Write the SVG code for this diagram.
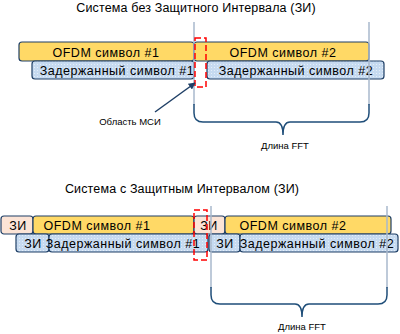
<svg xmlns="http://www.w3.org/2000/svg" width="400" height="334" viewBox="0 0 400 334">
  <defs>
    <pattern id="dots" width="3" height="3" patternUnits="userSpaceOnUse">
      <rect width="3" height="3" fill="#C6DAF0"/>
      <rect x="1" y="1" width="1" height="1" fill="#E4EEF9"/>
    </pattern>
    <marker id="arrow" viewBox="0 0 10 10" refX="9" refY="5" markerWidth="7" markerHeight="7" orient="auto" markerUnits="userSpaceOnUse">
      <path d="M0,0 L10,5 L0,10 z" fill="#1F3F66"/>
    </marker>
    <style>
      text { font-family: "Liberation Sans", Arial, sans-serif; fill: #000; }
      .title { font-size: 12.5px; text-anchor: middle; letter-spacing: 0.15px; }
      .bar-text { font-size: 12.5px; text-anchor: middle; letter-spacing: 0.5px; }
      .small { font-size: 9.5px; text-anchor: middle; }
      .sym { fill: #FFD966; stroke: #1F3F66; stroke-width: 1.2; }
      .del { fill: url(#dots); stroke: #1F3F66; stroke-width: 1.2; }
      .gi { fill: #FCE4D6; stroke: #1F3F66; stroke-width: 1.2; }
      .gi-del { fill: url(#dots); stroke: #1F3F66; stroke-width: 1.2; }
      .guide { stroke: #A9B8CC; stroke-width: 1.5; fill: none; }
      .brace { stroke: #1F4E79; stroke-width: 1.5; fill: none; }
      .isi { fill: none; stroke: #FF0000; stroke-width: 1.5; stroke-dasharray: 6 3; }
      .pointer { stroke: #1F3F66; stroke-width: 1.5; fill: none; }
    </style>
  </defs>

  <!-- Upper scheme: no guard interval -->
  <text class="title" x="196" y="12">Система без Защитного Интервала (ЗИ)</text>

  <g id="ofdm1-top">
    <rect class="sym" x="19" y="42" width="175" height="19" rx="3"/>
    <text class="bar-text" x="106" y="57">OFDM символ #1</text>
  </g>
  <g id="ofdm2-top">
    <rect class="sym" x="194" y="42" width="175" height="19" rx="3"/>
    <text class="bar-text" x="283" y="57">OFDM символ #2</text>
  </g>
  <g id="delayed1-top">
    <rect class="del" x="32" y="61" width="162" height="18" rx="3"/>
    <text class="bar-text" x="117" y="75">Задержанный символ #1</text>
  </g>
  <g id="delayed2-top">
    <rect class="del" x="207" y="61" width="177" height="18" rx="3"/>
    <text class="bar-text" x="296" y="75">Задержанный символ #2</text>
  </g>

  <!-- Lower scheme: with guard interval -->
  <text class="title" x="182" y="193">Система с Защитным Интервалом (ЗИ)</text>

  <g id="gi1-bottom">
    <rect class="gi" x="1" y="216" width="32" height="18" rx="3"/>
    <text class="bar-text" x="18" y="230">ЗИ</text>
  </g>
  <g id="ofdm1-bottom">
    <rect class="sym" x="33" y="216" width="161" height="18" rx="3"/>
    <text class="bar-text" x="97" y="230">OFDM символ #1</text>
  </g>
  <g id="gi2-bottom">
    <rect class="gi" x="194" y="216" width="31" height="18" rx="3"/>
    <text class="bar-text" x="209" y="230">ЗИ</text>
  </g>
  <g id="ofdm2-bottom">
    <rect class="sym" x="225" y="216" width="166" height="18" rx="3"/>
    <text class="bar-text" x="293" y="230">OFDM символ #2</text>
  </g>
  <g id="gi1-delayed">
    <rect class="gi-del" x="16" y="234" width="33" height="18" rx="3"/>
    <text class="bar-text" x="33" y="248">ЗИ</text>
  </g>
  <g id="delayed1-bottom">
    <rect class="del" x="49" y="234" width="159" height="18" rx="3"/>
    <text class="bar-text" x="123" y="248">Задержанный символ #1</text>
  </g>
  <g id="gi2-delayed">
    <rect class="gi-del" x="209" y="234" width="31" height="18" rx="3"/>
    <text class="bar-text" x="225" y="248">ЗИ</text>
  </g>
  <g id="delayed2-bottom">
    <rect class="del" x="240" y="234" width="158" height="18" rx="3"/>
    <text class="bar-text" x="317" y="248">Задержанный символ #2</text>
  </g>

  <!-- Connectors: FFT window guides, braces, ISI markers -->
  <g id="connectors">
    <line class="guide" x1="194" y1="22" x2="194" y2="105"/>
    <line class="guide" x1="369" y1="22" x2="369" y2="105"/>
    <path class="brace" d="M194,104 V113 Q194,122 203,122 H276 Q283,122 283,135 Q283,122 290,122 H360 Q369,122 369,113 V104"/>

    <line class="guide" x1="211" y1="206" x2="211" y2="288"/>
    <line class="guide" x1="387" y1="206" x2="387" y2="288"/>
    <path class="brace" d="M211,287 V295 Q211,304 220,304 H295 Q302,304 302,317 Q302,304 309,304 H378 Q387,304 387,295 V287"/>

    <rect class="isi" x="195" y="38" width="11" height="49"/>
    <rect class="isi" x="194" y="210" width="13" height="50"/>

    <line class="pointer" x1="155" y1="112" x2="195" y2="83" marker-end="url(#arrow)"/>
  </g>

  <g id="labels">
    <text class="small" x="130" y="125">Область МСИ</text>
    <text class="small" x="285" y="149">Длина FFT</text>
    <text class="small" x="302" y="330">Длина FFT</text>
  </g>
</svg>
